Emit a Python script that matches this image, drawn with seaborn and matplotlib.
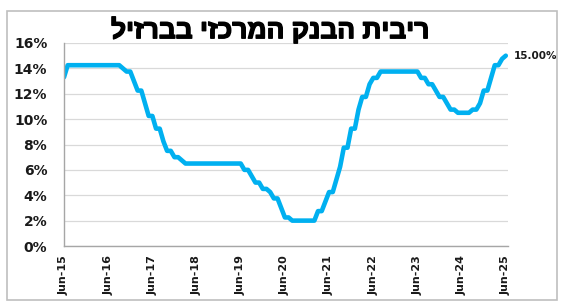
import matplotlib
matplotlib.use("Agg")
import matplotlib.pyplot as plt
import matplotlib.patheffects as pe
import seaborn as sns
import pandas as pd
import numpy as np

title_text = "ריבית הבנק המרכזי בברזיל"

# Monthly Selic rate (%), Jun-2015 .. Jun-2025
rate_2015 = [13.3, 14.25, 14.25, 14.25, 14.25, 14.25, 14.25]          # Jun-Dec 2015
rate_2016 = [14.25, 14.25, 14.25, 14.25, 14.25, 14.25, 14.25, 14.25, 14.25, 14.0, 13.75, 13.75]
rate_2017 = [13.0, 12.25, 12.25, 11.25, 10.25, 10.25, 9.25, 9.25, 8.25, 7.5, 7.5, 7.0]
rate_2018 = [7.0, 6.75, 6.5, 6.5, 6.5, 6.5, 6.5, 6.5, 6.5, 6.5, 6.5, 6.5]
rate_2019 = [6.5, 6.5, 6.5, 6.5, 6.5, 6.5, 6.0, 6.0, 5.5, 5.0, 5.0, 4.5]
rate_2020 = [4.5, 4.25, 3.75, 3.75, 3.0, 2.25, 2.25, 2.0, 2.0, 2.0, 2.0, 2.0]
rate_2021 = [2.0, 2.0, 2.75, 2.75, 3.5, 4.25, 4.25, 5.25, 6.25, 7.75, 7.75, 9.25]
rate_2022 = [9.25, 10.75, 11.75, 11.75, 12.75, 13.25, 13.25, 13.75, 13.75, 13.75, 13.75, 13.75]
rate_2023 = [13.75, 13.75, 13.75, 13.75, 13.75, 13.75, 13.25, 13.25, 12.75, 12.75, 12.25, 11.75]
rate_2024 = [11.75, 11.25, 10.75, 10.75, 10.5, 10.5, 10.5, 10.5, 10.75, 10.75, 11.25, 12.25]
rate_2025 = [12.25, 13.25, 14.25, 14.25, 14.75, 15.0]                  # Jan-Jun 2025

x_tick_labels = ["Jun-15", "Jun-16", "Jun-17", "Jun-18", "Jun-19", "Jun-20",
                 "Jun-21", "Jun-22", "Jun-23", "Jun-24", "Jun-25"]
y_ticks = [0, 2, 4, 6, 8, 10, 12, 14, 16]
last_label = "15.00%"

rates = (rate_2015 + rate_2016 + rate_2017 + rate_2018 + rate_2019 + rate_2020 +
         rate_2021 + rate_2022 + rate_2023 + rate_2024 + rate_2025)
df = pd.DataFrame({"month": np.arange(len(rates)), "rate": rates})

sns.set_theme(style="white")
plt.rcParams["font.family"] = ["DejaVu Sans"]

W, H = 564, 306
fig = plt.figure(figsize=(W / 100, H / 100), dpi=100)
fig.patch.set_facecolor("white")

# outer chart border
border = plt.Rectangle((7 / W, 1 - 300 / H), (557 - 7) / W, (300 - 11) / H,
                       transform=fig.transFigure, fill=False,
                       edgecolor="#BFBFBF", linewidth=1.2)
fig.add_artist(border)

left, right, top, bottom = 64, 508, 43, 246
ax = fig.add_axes([left / W, 1 - bottom / H, (right - left) / W, (bottom - top) / H])

sns.lineplot(data=df, x="month", y="rate", ax=ax, color="#00B0F0",
             linewidth=3.3, solid_joinstyle="round", solid_capstyle="round")

ax.set_xlim(0, 120.6)
ax.set_ylim(0, 16)
ax.set_yticks(y_ticks)
ax.set_yticklabels([f"{v}%" for v in y_ticks], fontsize=10, fontweight="bold")
ax.set_xticks(np.arange(0, 121, 12))
ax.set_xticklabels(x_tick_labels, rotation=90, fontsize=8, fontweight="bold")
ax.set_xlabel("")
ax.set_ylabel("")

ax.grid(axis="y", color="#D9D9D9", linewidth=0.9)
ax.grid(axis="x", visible=False)
ax.set_axisbelow(True)
for s in ["top", "right"]:
    ax.spines[s].set_visible(False)
for s in ["left", "bottom"]:
    ax.spines[s].set_color("#A6A6A6")
    ax.spines[s].set_linewidth(1.0)
ax.tick_params(axis="y", direction="out", length=4, width=0.8, color="#A6A6A6",
               pad=8, labelcolor="#1a1a1a")
ax.tick_params(axis="x", direction="inout", length=7, width=0.8, color="#A6A6A6",
               pad=3, labelcolor="#1a1a1a")

ax.annotate(last_label, xy=(len(rates) - 1, rates[-1]), xytext=(6, 0),
            textcoords="offset points", fontsize=7.5, fontweight="bold",
            va="center", ha="left", color="#1a1a1a", annotation_clip=False)

fig.text(270 / W, 1 - 30 / H, title_text[::-1], ha="center", va="center",
         fontsize=19, fontweight="bold", color="black",
         family=["Liberation Sans", "DejaVu Sans"],
         path_effects=[pe.withStroke(linewidth=1.0, foreground="black")])

fig.savefig("out.png", dpi=100, facecolor="white")
